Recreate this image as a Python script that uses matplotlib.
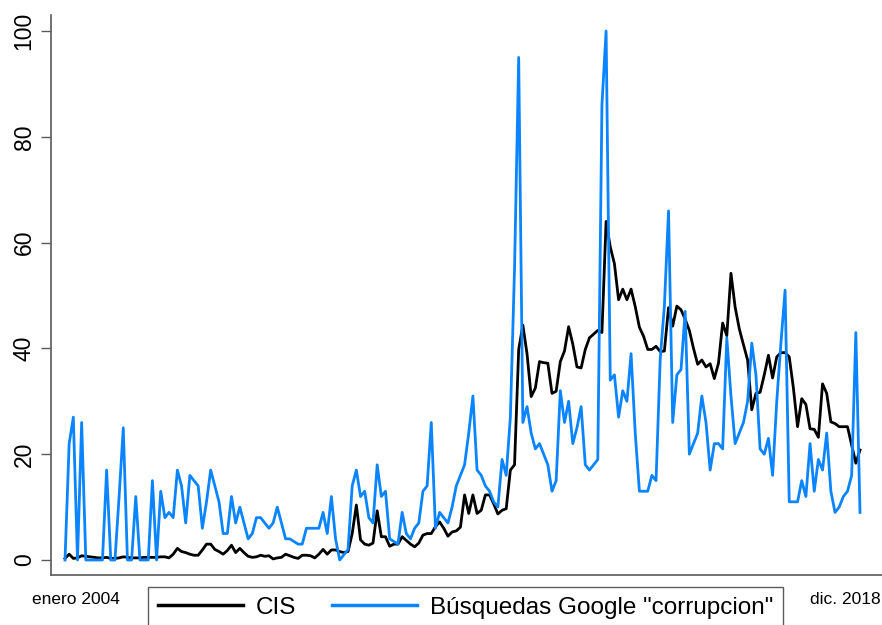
import matplotlib
matplotlib.use("Agg")
import matplotlib.pyplot as plt
import numpy as np

plt.rcParams['font.family'] = ['Liberation Sans', 'DejaVu Sans']

# Monthly series, enero 2004 onwards
cis = [
    0.3, 1.1, 0.3, 0.4, 0.8, 0.7, 0.6, 0.5, 0.4, 0.4, 0.5, 0.3,
    0.3, 0.4, 0.6, 0.5, 0.4, 0.4, 0.4, 0.5, 0.5, 0.5, 0.5, 0.6,
    0.6, 0.4, 1.1, 2.2, 1.6, 1.4, 1.1, 0.9, 0.9, 1.9, 3.0, 3.0,
    2.0, 1.6, 1.1, 1.8, 2.8, 1.4, 2.2, 1.4, 0.7, 0.5, 0.6, 0.9,
    0.7, 0.8, 0.2, 0.4, 0.5, 1.1, 0.8, 0.5, 0.3, 0.9, 0.9, 0.8,
    0.4, 1.1, 2.0, 1.1, 1.9, 1.9, 1.6, 1.4, 1.6, 5.0, 10.4, 3.8,
    3.0, 2.8, 3.2, 9.3, 4.4, 4.4, 2.6, 3.0, 3.0, 4.4, 3.7, 3.0,
    2.5, 3.2, 4.7, 5.0, 5.0, 6.3, 7.2, 6.0, 4.5, 5.3, 5.5, 6.2,
    12.3, 8.8, 12.3, 8.8, 9.4, 12.3, 12.3, 10.6, 8.7, 9.4, 9.7, 17.0,
    18.0, 39.8, 44.4, 39.0, 30.9, 32.5, 37.5, 37.3, 37.2, 31.5, 31.9, 37.5,
    39.5, 44.1, 40.8, 36.5, 36.3, 39.8, 42.0, 42.7, 43.4, 43.0, 64.0, 59.2,
    56.0, 49.2, 51.2, 49.2, 51.2, 47.9, 44.0, 42.3, 39.8, 39.8, 40.4, 39.4,
    39.5, 47.7, 44.2, 48.0, 47.3, 45.5, 43.4, 40.0, 37.0, 37.8, 36.5, 37.1,
    34.3, 37.2, 44.8, 42.4, 54.2, 47.8, 43.7, 40.7, 37.8, 28.4, 31.5, 31.7,
    35.0, 38.7, 34.4, 38.4, 39.2, 39.2, 38.4, 32.5, 25.2, 30.5, 29.4, 24.8,
    24.7, 23.2, 33.3, 31.5, 26.1, 25.8, 25.2, 25.2, 25.2, 21.7, 18.3, 20.8,
]

google = [
    0, 22, 27, 0, 26, 0, 0, 0, 0, 0, 17, 0,
    0, 12, 25, 0, 0, 12, 0, 0, 0, 15, 0, 13,
    8, 9, 8, 17, 14, 7, 16, 15, 14, 6, 11, 17,
    14, 11, 5, 5, 12, 7, 10, 7, 4, 5, 8, 8,
    7, 6, 7, 10, 7, 4, 4, 3.5, 3, 3, 6, 6,
    6, 6, 9, 5, 12, 4, 0, 1, 2, 14, 17, 12,
    13, 8, 7, 18, 12, 13, 4, 3.5, 3, 9, 5, 4,
    6, 7, 13, 14, 26, 6, 9, 8, 7, 10, 14, 16,
    18, 24, 31, 17, 16, 14, 13, 11, 10, 19, 16, 27,
    55, 95, 26, 29, 24, 21, 22, 20, 18, 13, 15, 32,
    26, 30, 22, 25, 29, 18, 17, 18, 19, 86, 100, 34,
    35, 27, 32, 30, 39, 24, 13, 13, 13, 16, 15, 38,
    48, 66, 26, 35, 36, 47, 20, 22, 24, 31, 26, 17,
    22, 22, 21, 42, 31, 22, 24, 26, 30, 41, 35, 21,
    20, 23, 16, 30, 41, 51, 11, 11, 11, 15, 12, 22,
    13, 19, 17, 24, 13, 9, 10, 12, 13, 16, 43, 9,
]

series_labels = ['CIS', 'Búsquedas Google "corrupcion"']
start_label = 'enero 2004'
end_label = 'dic. 2018'
yticks = [0, 20, 40, 60, 80, 100]

W, H = 882, 625
fig = plt.figure(figsize=(W / 100, H / 100), dpi=100)
ax = fig.add_axes([51 / W, 1 - 575 / H, 1 - 51 / W, (575 - 15) / H])

x = np.arange(len(cis))
l1, = ax.plot(x, cis, color='black', lw=2.0, label=series_labels[0])
l2, = ax.plot(x, google, color='#0a84ff', lw=2.0, label=series_labels[1])

n = len(cis)
px = (n - 1) / (860 - 65)
ax.set_xlim(-(65 - 51) * px, (n - 1) + (882 - 860) * px)
ax.set_ylim(-(575 - 560) / 5.29, 100 + (31 - 15) / 5.29)

spine_col = '#5a5a5a'
for s in ['top', 'right']:
    ax.spines[s].set_visible(False)
for s in ['left', 'bottom']:
    ax.spines[s].set_color(spine_col)
    ax.spines[s].set_linewidth(1.2)

ax.set_yticks(yticks)
ax.set_yticklabels([str(v) for v in yticks], rotation=90, va='center', fontsize=16.5)
ax.tick_params(axis='y', length=7, width=1.0, color=spine_col, pad=4)
ax.set_xticks([])

fig.text(76 / W, 1 - 600 / H, start_label, ha='center', va='center', fontsize=12.5)
fig.text(845 / W, 1 - 600 / H, end_label, ha='center', va='center', fontsize=12.5)

leg = fig.legend(handles=[l1, l2], labels=series_labels, loc='upper left',
                 bbox_to_anchor=(148 / W, 1 - 587 / H), ncol=2, fontsize=17.5,
                 frameon=True, fancybox=False, shadow=False, borderaxespad=0,
                 borderpad=0.4, handlelength=3.5, handletextpad=0.55,
                 columnspacing=1.45)
leg.get_frame().set_edgecolor('#333333')
leg.get_frame().set_linewidth(1.0)
for h in leg.get_lines():
    h.set_linewidth(2.5)

fig.savefig('out.png', dpi=100)
